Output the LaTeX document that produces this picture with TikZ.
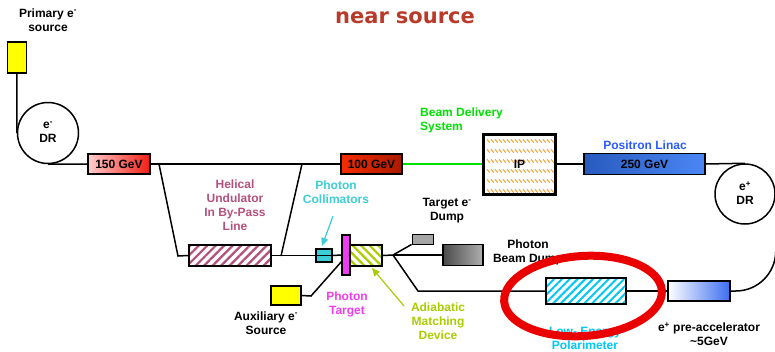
\documentclass[tikz,border=0pt]{standalone}
\usepackage{fontspec}
\setmainfont{Liberation Sans}
\newfontfamily\titlefont{DejaVu Sans}
\usetikzlibrary{arrows.meta,patterns.meta}
\definecolor{titlered}{RGB}{185,58,40}
\definecolor{bdsgreen}{RGB}{0,225,0}
\definecolor{linacblue}{RGB}{40,90,255}
\definecolor{collcyan}{RGB}{60,205,215}
\definecolor{polcyan}{RGB}{0,200,245}
\definecolor{humauve}{RGB}{180,80,125}
\definecolor{tgtmag}{RGB}{240,60,240}
\definecolor{amdgreen}{RGB}{170,205,0}
\definecolor{iporange}{RGB}{255,160,40}
\definecolor{srcyellow}{RGB}{255,255,0}
\definecolor{ringred}{RGB}{235,0,0}
\begin{document}
\begin{tikzpicture}[x=1pt,y=-1pt,
  box/.style={draw=black, line width=1.3pt, inner sep=0pt, rectangle},
  lbl/.style={font=\bfseries\fontsize{12}{14}\selectfont, align=center, inner sep=0pt},
  beam/.style={line width=1.5pt, black},
  ring/.style={circle, draw, line width=1.5pt, inner sep=0pt, minimum size=61pt, fill=white},
  callout/.style={line width=1.2pt, -{Triangle[length=8pt,width=7pt]}}
]
\useasboundingbox (0,0) rectangle (775,351);

% title
\node[font=\titlefont\bfseries\fontsize{21}{24}\selectfont, text=titlered] (title) at (405,18) {near\,\,source};

% electron side
\node[box, fill=srcyellow, minimum width=19pt, minimum height=31pt] (psrc) at (17,57.5) {};
\node[lbl] (psrclbl) at (48,20) {Primary e\textsuperscript{-}\\source};
\node[ring] (edr) at (48,133) {};
\node[lbl] (edrlbl) at (48,132) {e\textsuperscript{-}\\DR};
\node[box, shading=axis, left color={rgb,255:red,255;green,205;blue,205}, right color={rgb,255:red,240;green,30;blue,20}, minimum width=62pt, minimum height=20pt, lbl] (b150) at (119,164) {150 GeV};
\node[box, shading=axis, left color={rgb,255:red,245;green,45;blue,0}, right color={rgb,255:red,170;green,25;blue,0}, minimum width=61pt, minimum height=20pt, lbl] (b100) at (371.5,164) {100 GeV};

% IP
\node[box, line width=3pt, fill=white, minimum width=72pt, minimum height=60pt] (ip) at (519.5,164) {};
\foreach \r in {141,151,...,191}
  \foreach \c in {487,491,...,551}
    \draw[iporange, line width=1pt] (\c,\r-1.7) -- (\c+2.7,\r+1.7);
\node[lbl] (iplbl) at (ip.center) {IP};
\node[lbl, text=bdsgreen, align=left, anchor=west] (bdslbl) at (420,120) {Beam Delivery\\System};

% positron linac
\node[box, shading=axis, left color={rgb,255:red,40;green,90;blue,190}, right color={rgb,255:red,75;green,135;blue,245}, minimum width=121pt, minimum height=21pt, lbl] (linac) at (644.5,164) {250 GeV};
\node[lbl, text=linacblue] (linaclbl) at (645,145) {Positron Linac};
\node[ring, minimum size=60pt] (pdr) at (745,194) {};
\node[lbl] (pdrlbl) at (745,193) {e\textsuperscript{+}\\DR};
\node[box, shading=axis, left color=white, right color={rgb,255:red,60;green,110;blue,240}, minimum width=62pt, minimum height=20pt] (preacc) at (699,291) {};
\node[lbl] (preacclbl) at (709,334) {e\textsuperscript{+} pre-accelerator\\\textasciitilde5GeV};

% undulator line
\node[box, preaction={fill=white}, pattern={Lines[angle=45,distance=6pt,line width=2.2pt]}, pattern color=humauve, minimum width=82pt, minimum height=21pt] (hu) at (230,255.5) {};
\node[lbl, text=humauve] (hulbl) at (235,205) {Helical\\Undulator\\In By-Pass\\Line};
\node[box, fill=collcyan, minimum width=16pt, minimum height=13pt] (coll) at (324,255.5) {};
\node[lbl, text=collcyan] (colllbl) at (336,192) {Photon\\Collimators};
\node[box, fill=tgtmag, minimum width=8pt, minimum height=40pt] (ptgt) at (346,255) {};
\node[lbl, text=tgtmag] (ptgtlbl) at (347,304) {Photon\\Target};
\node[box, preaction={fill=white}, pattern={Lines[angle=-45,distance=6pt,line width=2.2pt]}, pattern color=amdgreen, minimum width=32pt, minimum height=21pt] (amd) at (366,255.5) {};
\node[lbl, text=amdgreen] (amdlbl) at (438,321) {Adiabatic\\Matching\\Device};
\node[box, fill=srcyellow, minimum width=30pt, minimum height=19pt] (aux) at (286,295.5) {};
\node[lbl] (auxlbl) at (266,323) {Auxiliary e\textsuperscript{-}\\Source};

% dumps
\node[box, fill={rgb,255:red,165;green,165;blue,165}, line width=1pt, minimum width=21pt, minimum height=10pt] (tdump) at (422.5,239) {};
\node[lbl] (tdumplbl) at (447,211) {Target e\textsuperscript{-}\\Dump};
\node[box, shading=axis, left color={rgb,255:red,75;green,75;blue,75}, right color={rgb,255:red,175;green,175;blue,175}, minimum width=40pt, minimum height=21pt] (bdump) at (463,255) {};
\node[lbl] (bdumplbl) at (528,252) {Photon\\Beam Dump};

% polarimeter
\node[box, preaction={fill=white}, pattern={Lines[angle=45,distance=5.5pt,line width=2pt]}, pattern color=polcyan, minimum width=80pt, minimum height=26pt] (pol) at (586,291) {};
\node[lbl, text=polcyan] (pollbl) at (585,338) {Low- Energy\\Polarimeter};

% coordinates
\coordinate (bl1) at (159,164);
\coordinate (bl2) at (178,256);
\coordinate (br1) at (302,164);
\coordinate (br2) at (281,256);
\coordinate (jn) at (393,255);
\coordinate (pk) at (418,291);
\coordinate (aux1) at (311,296);
\coordinate (tgthit) at (342,261);

% beam lines
\draw[beam] (psrc.south) -- (edr.west);
\draw[beam] (edr.south) -- (b150.west);
\draw[beam] (b150.east) -- (b100.west);
\draw[line width=1.8pt, bdsgreen] (b100.east) -- (ip.west);
\draw[beam] (ip.east) -- (linac.west);
\draw[beam] (linac.east) -- (pdr.north);
\draw[beam, rounded corners=40pt] (pdr.east) |- (preacc.east);
\draw[beam] (preacc.west) -- (pol.east);
\draw[beam] (pol.west) -- (pk) -- (jn);
\draw[beam] (jn) -- (tdump.south west);
\draw[beam] (jn) -- (bdump.west);
\draw[beam] (amd.east) -- (jn);
\draw[beam] (ptgt.east) -- (amd.west);
\draw[beam] (coll.east) -- (ptgt.west);
\draw[line width=1pt] (coll.west) -- (coll.east);
\draw[beam] (hu.east) -- (coll.west);
\draw[beam] (bl1) -- (bl2) -- (hu.west);
\draw[beam] (br2) -- (br1);
\draw[beam] (aux.east) -- (aux1) -- (tgthit);

% callouts
\coordinate (ca1) at (333,216);
\coordinate (ca2) at (322,246);
\draw[callout, collcyan] (ca1) -- (ca2);
\coordinate (cb1) at (404,306);
\coordinate (cb2) at (372,268);
\draw[callout, amdgreen] (cb1) -- (cb2);

% highlight
\draw[ringred, line width=8pt, rotate around={4:(583,296)}] (583,296) ellipse [x radius=79pt, y radius=40pt];
\end{tikzpicture}
\end{document}
